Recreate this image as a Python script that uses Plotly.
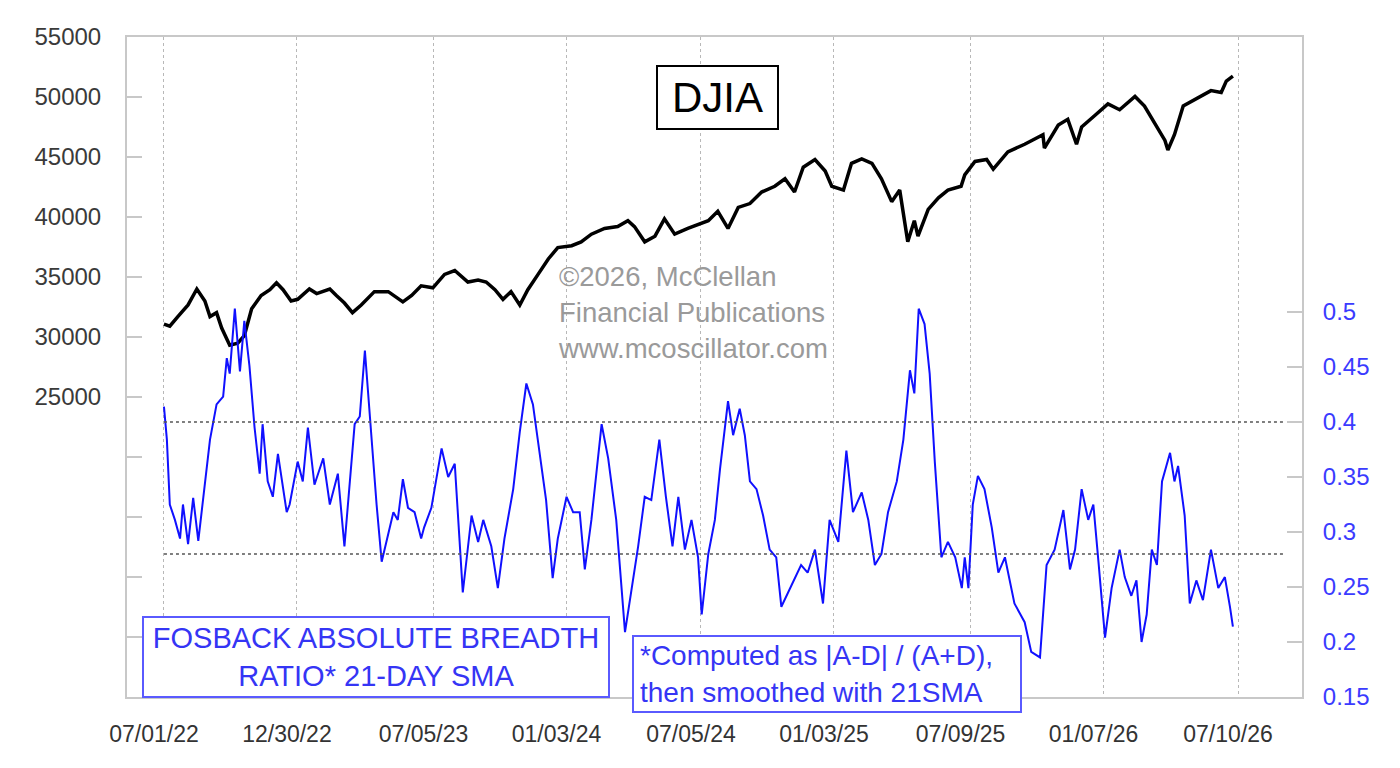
import plotly.graph_objects as go

# ---------------- data ----------------
DJIA_DATES = [
    "2022-07-01", "2022-07-09", "2022-07-20", "2022-08-03", "2022-08-15", "2022-08-26",
    "2022-09-02", "2022-09-11", "2022-09-18", "2022-09-29", "2022-10-10", "2022-10-19",
    "2022-10-29", "2022-11-11", "2022-11-23", "2022-12-02", "2022-12-11", "2022-12-22",
    "2022-12-31", "2023-01-16", "2023-01-26", "2023-02-13", "2023-02-22", "2023-03-05",
    "2023-03-16", "2023-03-28", "2023-04-15", "2023-05-04", "2023-05-24", "2023-06-05",
    "2023-06-18", "2023-07-04", "2023-07-20", "2023-08-03", "2023-08-21", "2023-09-04",
    "2023-09-15", "2023-09-27", "2023-10-08", "2023-10-19", "2023-10-31", "2023-11-11",
    "2023-11-25", "2023-12-09", "2023-12-22", "2024-01-10", "2024-01-23", "2024-02-06",
    "2024-02-24", "2024-03-13", "2024-03-27", "2024-04-05", "2024-04-19", "2024-05-03",
    "2024-05-16", "2024-05-30", "2024-06-17", "2024-07-08", "2024-07-15", "2024-07-28",
    "2024-08-11", "2024-08-25", "2024-09-10", "2024-09-26", "2024-10-14", "2024-10-28",
    "2024-11-10", "2024-11-22", "2024-12-08", "2024-12-22", "2024-12-31", "2025-01-16",
    "2025-01-27", "2025-02-10", "2025-02-24", "2025-03-09", "2025-03-23", "2025-04-03",
    "2025-04-14", "2025-04-23", "2025-04-28", "2025-05-12", "2025-05-26", "2025-06-08",
    "2025-06-26", "2025-07-01", "2025-07-15", "2025-07-31", "2025-08-09", "2025-08-29",
    "2025-09-21", "2025-10-16", "2025-10-18", "2025-11-06", "2025-11-19", "2025-12-01",
    "2025-12-08", "2025-12-26", "2026-01-13", "2026-01-29", "2026-02-19", "2026-03-04",
    "2026-03-18", "2026-04-01", "2026-04-05", "2026-04-14", "2026-04-26", "2026-05-16",
    "2026-06-03", "2026-06-17", "2026-06-24", "2026-07-03",
]
DJIA_VALUES = [
    31070, 30900, 31700, 32670, 34000, 33000,
    31700, 32030, 30750, 29320, 29480, 30120,
    32350, 33460, 33940, 34520, 33940, 33000,
    33140, 34000, 33620, 34000, 33460, 32830,
    32030, 32670, 33780, 33780, 32930, 33460,
    34260, 34100, 35220, 35540, 34580, 34740,
    34580, 33940, 33140, 33780, 32670, 33940,
    35220, 36500, 37450, 37610, 37930, 38570,
    39050, 39200, 39690, 39200, 37930, 38400,
    39850, 38570, 39050, 39530, 39690, 40480,
    39050, 40800, 41120, 42080, 42560, 43190,
    42080, 44150, 44790, 43830, 42560, 42240,
    44470, 44850, 44470, 43190, 41280, 42240,
    37930, 39690, 38400, 40640, 41600, 42240,
    42560, 43510, 44630, 44790, 43990, 45430,
    46060, 46860, 45740, 47660, 48140, 46060,
    47500, 48460, 49420, 48940, 50050, 49250,
    47820, 46380, 45580, 46860, 49250, 49890,
    50530, 50370, 51330, 51740,
]

FAB_DATES = [
    "2022-07-01", "2022-07-05", "2022-07-09", "2022-07-16", "2022-07-23", "2022-07-27",
    "2022-08-03", "2022-08-10", "2022-08-17", "2022-08-24", "2022-09-02", "2022-09-11",
    "2022-09-20", "2022-09-25", "2022-09-29", "2022-10-06", "2022-10-13", "2022-10-19",
    "2022-10-26", "2022-11-02", "2022-11-09", "2022-11-13", "2022-11-20", "2022-11-27",
    "2022-12-04", "2022-12-16", "2022-12-20", "2022-12-31",
    "2023-01-07", "2023-01-14", "2023-01-23", "2023-02-04", "2023-02-13", "2023-02-24",
    "2023-03-05", "2023-03-19", "2023-03-26", "2023-04-02", "2023-04-09", "2023-04-18",
    "2023-04-25", "2023-05-04", "2023-05-11", "2023-05-17", "2023-05-24", "2023-05-31",
    "2023-06-09", "2023-06-18", "2023-06-22", "2023-07-02", "2023-07-16", "2023-07-25",
    "2023-08-03", "2023-08-14", "2023-08-26", "2023-09-04", "2023-09-11", "2023-09-22",
    "2023-10-01", "2023-10-10", "2023-10-22", "2023-10-31", "2023-11-09", "2023-11-18",
    "2023-11-27", "2023-12-06", "2023-12-15", "2023-12-22",
    "2024-01-03", "2024-01-12", "2024-01-21", "2024-01-28", "2024-02-06", "2024-02-20",
    "2024-02-29", "2024-03-11", "2024-03-23", "2024-04-01", "2024-04-10", "2024-04-19",
    "2024-04-28", "2024-05-09", "2024-05-18", "2024-05-27", "2024-06-04", "2024-06-13",
    "2024-06-22", "2024-07-01", "2024-07-06", "2024-07-15", "2024-07-24", "2024-07-31",
    "2024-08-11", "2024-08-18", "2024-08-27", "2024-09-03", "2024-09-10", "2024-09-19",
    "2024-09-28", "2024-10-07", "2024-10-16", "2024-10-23", "2024-11-06", "2024-11-19",
    "2024-11-28", "2024-12-08", "2024-12-19", "2024-12-28",
    "2025-01-09", "2025-01-20", "2025-01-29", "2025-02-10", "2025-02-19", "2025-02-28",
    "2025-03-09", "2025-03-18", "2025-03-30", "2025-04-08", "2025-04-17", "2025-04-23",
    "2025-04-29", "2025-05-07", "2025-05-14", "2025-05-21", "2025-05-30", "2025-06-08",
    "2025-06-18", "2025-06-27", "2025-07-01", "2025-07-06", "2025-07-12", "2025-07-19",
    "2025-07-28", "2025-08-07", "2025-08-16", "2025-08-25", "2025-09-07", "2025-09-21",
    "2025-09-30", "2025-10-12", "2025-10-21", "2025-11-01", "2025-11-13", "2025-11-22",
    "2025-11-29", "2025-12-08", "2025-12-17", "2025-12-24", "2025-12-31",
    "2026-01-09", "2026-01-18", "2026-01-29", "2026-02-05", "2026-02-14", "2026-02-21",
    "2026-02-28", "2026-03-07", "2026-03-14", "2026-03-21", "2026-03-28", "2026-04-08",
    "2026-04-14", "2026-04-19", "2026-04-28", "2026-05-05", "2026-05-14", "2026-05-23",
    "2026-06-03", "2026-06-13", "2026-06-22", "2026-06-29", "2026-07-03",
]
FAB_VALUES = [
    0.414, 0.384, 0.325, 0.311, 0.294, 0.325,
    0.289, 0.331, 0.292, 0.332, 0.384, 0.416,
    0.423, 0.458, 0.444, 0.503, 0.446, 0.492,
    0.451, 0.395, 0.353, 0.398, 0.346, 0.332,
    0.371, 0.318, 0.325, 0.364,
    0.346, 0.395, 0.343, 0.367, 0.325, 0.353,
    0.287, 0.398, 0.405, 0.465, 0.402, 0.325,
    0.273, 0.298, 0.318, 0.311, 0.348, 0.322,
    0.318, 0.294, 0.304, 0.322, 0.376, 0.350,
    0.362, 0.245, 0.315, 0.291, 0.311, 0.287,
    0.249, 0.294, 0.339, 0.391, 0.435, 0.416,
    0.374, 0.329, 0.258, 0.294,
    0.332, 0.318, 0.318, 0.266, 0.311, 0.398,
    0.367, 0.311, 0.209, 0.249, 0.287, 0.332,
    0.329, 0.384, 0.332, 0.287, 0.332, 0.284,
    0.311, 0.277, 0.225, 0.280, 0.311, 0.357,
    0.419, 0.388, 0.412, 0.388, 0.346, 0.339,
    0.315, 0.284, 0.277, 0.232, 0.252, 0.270,
    0.263, 0.284, 0.235, 0.311,
    0.291, 0.374, 0.318, 0.336, 0.311, 0.270,
    0.280, 0.318, 0.346, 0.384, 0.447, 0.426,
    0.503, 0.489, 0.444, 0.364, 0.277, 0.291,
    0.277, 0.249, 0.277, 0.249, 0.325, 0.351,
    0.339, 0.304, 0.263, 0.277, 0.235, 0.218,
    0.191, 0.186, 0.270, 0.284, 0.320, 0.266,
    0.284, 0.339, 0.311, 0.325, 0.273,
    0.204, 0.249, 0.284, 0.259, 0.242, 0.256,
    0.200, 0.225, 0.284, 0.270, 0.346, 0.372,
    0.346, 0.360, 0.315, 0.235, 0.256, 0.238,
    0.284, 0.249, 0.259, 0.232, 0.214,
]

X_TICK_DATES = ["2022-07-01", "2022-12-30", "2023-07-05", "2024-01-03", "2024-07-05",
                "2025-01-03", "2025-07-09", "2026-01-07", "2026-07-10"]
X_TICK_LABELS = ["07/01/22", "12/30/22", "07/05/23", "01/03/24", "07/05/24",
                 "01/03/25", "07/09/25", "01/07/26", "07/10/26"]

LEFT_TICKS = [0, 5000, 10000, 15000, 20000, 25000, 30000, 35000, 40000, 45000, 50000, 55000]
LEFT_LABELS = ["", "", "", "", "", "25000", "30000", "35000", "40000", "45000", "50000", "55000"]
RIGHT_TICKS = [0.15, 0.2, 0.25, 0.3, 0.35, 0.4, 0.45, 0.5]
RIGHT_LABELS = ["0.15", "0.2", "0.25", "0.3", "0.35", "0.4", "0.45", "0.5"]
REF_LEVELS = [0.4, 0.28]

# ---------------- styling ----------------
FONT = "Liberation Sans, Arial, sans-serif"
FRAME = "#c8c8c8"
BLUE = "#1010ff"
BLUE_TXT = "#3535f5"
BLUE_BOX = "#5a5aff"

fig = go.Figure()
fig.add_trace(go.Scatter(x=DJIA_DATES, y=DJIA_VALUES, mode="lines",
                         line=dict(color="#000000", width=3.5), yaxis="y",
                         hoverinfo="skip", showlegend=False))
fig.add_trace(go.Scatter(x=FAB_DATES, y=FAB_VALUES, mode="lines",
                         line=dict(color=BLUE, width=2), yaxis="y2",
                         hoverinfo="skip", showlegend=False))

for lvl in REF_LEVELS:
    fig.add_shape(type="line", xref="x", yref="y2",
                  x0=FAB_DATES[0], x1="2026-09-12", y0=lvl, y1=lvl,
                  line=dict(color="#555555", width=1.5, dash="dot"))

fig.update_layout(
    width=1400, height=768, autosize=False,
    margin=dict(l=127, r=98, t=37, b=71, pad=0),
    paper_bgcolor="white", plot_bgcolor="white",
    font=dict(family=FONT),
    showlegend=False,
    xaxis=dict(
        type="date", range=["2022-05-11 10:00", "2026-10-05 14:00"],
        tickmode="array", tickvals=X_TICK_DATES, ticktext=X_TICK_LABELS,
        tickfont=dict(size=23, color="#333333", family=FONT),
        ticks="", ticklabelstandoff=15, ticklabelshift=-10,
        showgrid=True, gridcolor="#b8b8b8", gridwidth=1, griddash="dot",
        showline=True, linecolor=FRAME, linewidth=2, mirror=True,
        zeroline=False, fixedrange=True,
    ),
    yaxis=dict(
        range=[0, 55000], tickmode="array", tickvals=LEFT_TICKS, ticktext=LEFT_LABELS,
        tickfont=dict(size=24, color="#3a3a3a", family=FONT),
        ticks="inside", ticklen=15, tickwidth=2, tickcolor=FRAME,
        ticklabelstandoff=19,
        showgrid=False, zeroline=False,
        showline=True, linecolor=FRAME, linewidth=2, mirror=True, fixedrange=True,
    ),
    yaxis2=dict(
        overlaying="y", side="right", range=[0.15, 0.75],
        tickmode="array", tickvals=RIGHT_TICKS, ticktext=RIGHT_LABELS,
        tickfont=dict(size=24, color="#3b3bff", family=FONT),
        ticks="inside", ticklen=15, tickwidth=2, tickcolor=FRAME,
        ticklabelstandoff=14,
        showgrid=False, zeroline=False,
        showline=True, linecolor=FRAME, linewidth=2, fixedrange=True,
    ),
)

fig.add_annotation(
    text="DJIA", xref="paper", yref="paper", x=0.4502, y=0.9576,
    xanchor="left", yanchor="top", showarrow=False,
    font=dict(size=42, color="#000000", family=FONT),
    bordercolor="#000000", borderwidth=2, borderpad=0, bgcolor="white",
    width=119, height=61,
)
fig.add_annotation(
    text="©2026, McClellan<br>Financial Publications<br>www.mcoscillator.com",
    xref="paper", yref="paper", x=0.3655, y=0.664,
    xanchor="left", yanchor="top", showarrow=False, align="left",
    font=dict(size=27.5, color="#9a9a9a", family=FONT),
)
fig.add_annotation(
    text="FOSBACK ABSOLUTE BREADTH<br>RATIO* 21-DAY SMA",
    xref="paper", yref="paper", x=0.01277, y=0.1227,
    xanchor="left", yanchor="top", showarrow=False, align="center",
    font=dict(size=29, color=BLUE_TXT, family=FONT),
    bordercolor=BLUE_BOX, borderwidth=2, borderpad=0, bgcolor="white",
    width=464, height=78,
)
fig.add_annotation(
    text="*Computed as |A-D| / (A+D),<br>then smoothed with 21SMA",
    xref="paper", yref="paper", x=0.4298, y=0.0939,
    xanchor="left", yanchor="top", showarrow=False, align="left",
    font=dict(size=28, color=BLUE_TXT, family=FONT),
    bordercolor=BLUE_BOX, borderwidth=2, borderpad=6, bgcolor="white",
    width=374, height=62,
)

fig.write_html("out.html", config={"displayModeBar": False})
